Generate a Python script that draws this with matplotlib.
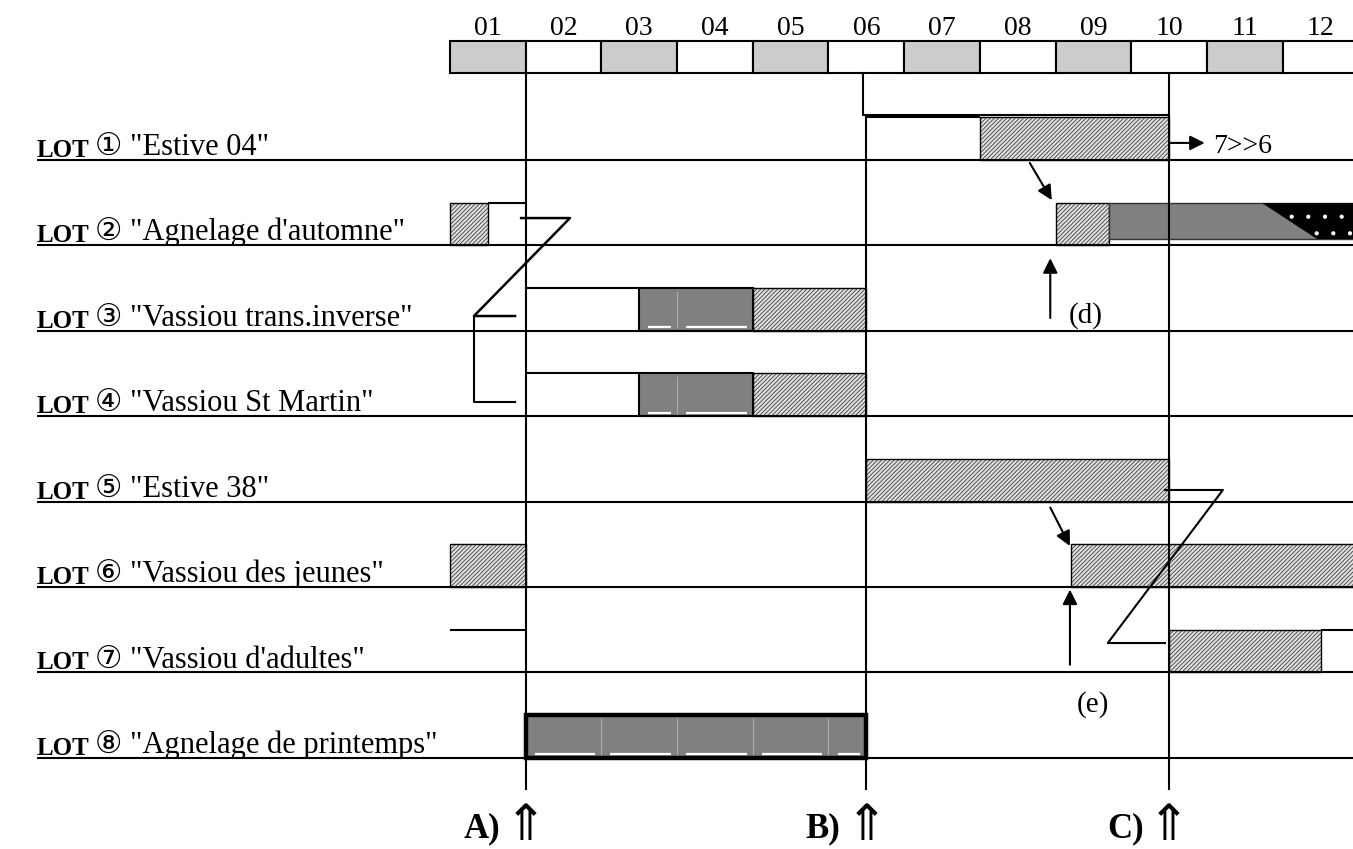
import matplotlib.pyplot as plt
from matplotlib.patches import Rectangle, Polygon

plt.rcParams['hatch.linewidth'] = 0.6
SERIF = ['Liberation Serif', 'DejaVu Sans']

# calendar
months = ['01', '02', '03', '04', '05', '06', '07', '08', '09', '10', '11', '12']

# lots (rows, 1 = top)
lot_marks = ['①', '②', '③', '④', '⑤', '⑥', '⑦', '⑧']
lot_names = ['"Estive 04"', '"Agnelage d\'automne"', '"Vassiou trans.inverse"',
             '"Vassiou St Martin"', '"Estive 38"', '"Vassiou des jeunes"',
             '"Vassiou d\'adultes"', '"Agnelage de printemps"']

# bars: (lot, start month, end month) on a 0..12 month scale
hatched = [(1, 7.0, 9.5), (2, 0.0, 0.5), (2, 8.0, 8.7), (3, 4.0, 5.5), (4, 4.0, 5.5),
           (5, 5.5, 9.5), (6, 0.0, 1.0), (6, 8.2, 12.0), (7, 9.5, 11.5)]
solid = [(2, 8.7, 12.0), (3, 2.5, 4.0), (4, 2.5, 4.0)]
framed = [(8, 1.0, 5.5)]
empty = [(1, 5.5, 7.0), (2, 0.5, 1.0), (3, 1.0, 2.5), (4, 1.0, 2.5), (7, 0.0, 1.0), (7, 11.5, 12.0)]
dotted = [(2, 10.73, 11.45, 12.0)]  # lot, top start, bottom start, end

# milestones
milestones = ['A)', 'B)', 'C)']
milestone_x = [1.0, 5.5, 9.5]

fig = plt.figure(figsize=(13.53, 8.49), dpi=100)
ax = fig.add_axes([0, 0, 1, 1])
ax.set_xlim(-5.944, 11.929)
ax.set_ylim(9.068, -0.8735)
ax.axis('off')

LW = 1.5
LEFT = -5.456

# month header
for i, m in enumerate(months):
    ax.add_patch(Rectangle((i, -0.39), 1, 0.37, facecolor='#cccccc' if i % 2 == 0 else 'white',
                           edgecolor='black', lw=LW))
    ax.text(i + 0.5, -0.46, m, ha='center', va='baseline', fontsize=20, family=SERIF)

# row lines and labels
for k, (mark, name) in enumerate(zip(lot_marks, lot_names)):
    y = k + 1
    ax.hlines(y, LEFT, 12.5, color='black', lw=LW)
    clip = Rectangle((LEFT - 1, y - 1), 7, 0.985, transform=ax.transData)
    t = ax.text(LEFT, y - 0.035, 'LOT', ha='left', va='baseline', fontsize=18,
                fontweight='bold', family=SERIF)
    t.set_clip_path(clip)
    t2 = ax.annotate(mark + ' ' + name, xy=(1, 0), xycoords=t, xytext=(4, 0),
                     textcoords='offset points', ha='left', va='bottom', fontsize=22, family=SERIF)
    t2.set_clip_path(clip)

# empty boxes: only their top edge shows
for lot, a, b in empty:
    ax.hlines(lot - 0.5, a, b, color='black', lw=LW)

for lot, a, b in hatched:
    ax.add_patch(Rectangle((a, lot - 0.5), b - a, 0.5, facecolor='#e0e0e0',
                           edgecolor='#404040', hatch='////////', lw=0))
    ax.add_patch(Rectangle((a, lot - 0.5), b - a, 0.5, fill=False, edgecolor='black', lw=1.0))


def gray_bar(lot, a, b, lw):
    ax.add_patch(Rectangle((a, lot - 0.5), b - a, 0.5, facecolor='#808080', edgecolor='black', lw=lw))
    edges = [a] + [m for m in range(13) if a < m < b] + [b]
    for m in edges[1:-1]:
        ax.vlines(m, lot - 0.47, lot - 0.03, color='#aaaaaa', lw=0.8)
    for p, q in zip(edges[:-1], edges[1:]):
        if q - p > 0.3:
            ax.hlines(lot - 0.04, p + 0.12, q - 0.08, color='white', lw=1.6)


for lot, a, b in solid:
    if lot == 2:
        ax.add_patch(Rectangle((a, lot - 0.5), b - a, 0.43, facecolor='#808080',
                               edgecolor='#333333', lw=1.0))
    else:
        gray_bar(lot, a, b, LW)
for lot, a, b in framed:
    gray_bar(lot, a, b, 3.2)

for lot, a, c, b in dotted:
    ax.add_patch(Polygon([(a, lot - 0.5), (b, lot - 0.5), (b, lot - 0.07), (c, lot - 0.07)],
                         facecolor='black', edgecolor='white', hatch='.', lw=0))

# milestone lines
ax.vlines([milestone_x[0], milestone_x[2]], -0.02, 8.38, color='black', lw=LW)
ax.vlines(milestone_x[1], 0.47, 8.38, color='black', lw=LW)
ax.plot([5.45, 5.45, 9.5], [-0.02, 0.47, 0.47], color='black', lw=LW)
for name, xv in zip(milestones, milestone_x):
    ax.text(xv - 0.34, 8.93, name, ha='right', va='baseline', fontsize=25,
            fontweight='bold', family=SERIF)
    ax.text(xv, 8.96, '⇑', ha='center', va='baseline', fontsize=36, family='DejaVu Sans')

# transfer connectors
ax.plot([0.94, 1.585, 0.317, 0.86], [1.68, 1.68, 2.827, 2.827], color='black', lw=1.8)
ax.plot([0.317, 0.317, 0.86], [2.827, 3.834, 3.834], color='black', lw=1.5)
ax.plot([9.445, 10.21, 8.69, 9.445], [4.864, 4.864, 6.656, 6.656], color='black', lw=1.5)

arrow = dict(arrowstyle='-|>', lw=1.5, color='black', mutation_scale=22, shrinkA=0, shrinkB=0)
ax.annotate('', xy=(9.97, 0.80), xytext=(9.5, 0.80), arrowprops=arrow)
ax.text(10.08, 0.92, '7>>6', ha='left', va='baseline', fontsize=20, family=SERIF)
ax.annotate('', xy=(7.95, 1.47), xytext=(7.66, 1.035), arrowprops=arrow)
ax.annotate('', xy=(7.93, 2.15), xytext=(7.93, 2.85), arrowprops=arrow)
ax.text(8.18, 2.9, '(d)', ha='left', va='baseline', fontsize=21, family=SERIF)
ax.annotate('', xy=(8.19, 5.52), xytext=(7.93, 5.07), arrowprops=arrow)
ax.annotate('', xy=(8.19, 6.03), xytext=(8.19, 6.91), arrowprops=arrow)
ax.text(8.5, 7.46, '(e)', ha='center', va='baseline', fontsize=21, family=SERIF)

fig.savefig('out.png', dpi=100)
